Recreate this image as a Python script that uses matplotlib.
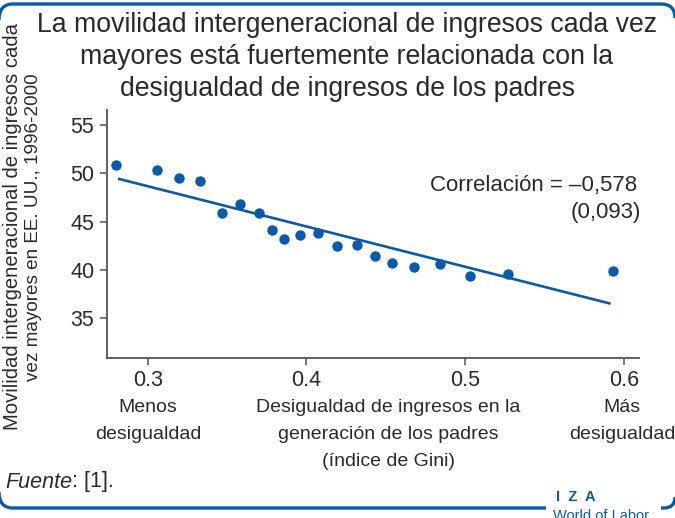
import matplotlib
matplotlib.use('Agg')
import matplotlib.pyplot as plt
from matplotlib.patches import PathPatch
from matplotlib.path import Path

# ---- data ----
gini = [0.280, 0.306, 0.320, 0.333, 0.347, 0.358, 0.370, 0.378, 0.386, 0.396,
        0.407, 0.419, 0.432, 0.443, 0.454, 0.468, 0.484, 0.503, 0.527, 0.593]
mobility = [50.83, 50.34, 49.55, 49.20, 45.93, 46.82, 45.86, 44.17, 43.17, 43.58,
            43.86, 42.47, 42.58, 41.44, 40.71, 40.30, 40.65, 39.41, 39.61, 39.92]
fit_x = [0.2812, 0.5917]
fit_y = [49.45, 36.52]

xticks = [0.3, 0.4, 0.5, 0.6]
xtick_labels = ['0.3', '0.4', '0.5', '0.6']
yticks = [35, 40, 45, 50, 55]
ytick_labels = ['35', '40', '45', '50', '55']

title_lines = ['La movilidad intergeneracional de ingresos cada vez',
               'mayores está fuertemente relacionada con la',
               'desigualdad de ingresos de los padres']
ylabel_lines = ['Movilidad intergeneracional de ingresos cada',
                'vez mayores en EE. UU., 1996-2000']
corr_text = 'Correlación = \u20130,578'
se_text = '(0,093)'
left_label = ['Menos', 'desigualdad']
mid_label = ['Desigualdad de ingresos en la', 'generación de los padres',
             '(índice de Gini)']
right_label = ['Más', 'desigualdad']

BLUE = '#0a5aa8'
TXT = '#2a2a2a'
AX = '#555555'

plt.rcParams['font.family'] = ['Liberation Sans', 'DejaVu Sans']

W, H = 675, 518
fig = plt.figure(figsize=(W / 100, H / 100), dpi=100)


def fx(px):
    return px / W


def fy(py):
    return 1 - py / H


ax = fig.add_axes([fx(106.8), fy(358), fx(639) - fx(106.8), fy(110) - fy(358)])
ax.plot(fit_x, fit_y, color=BLUE, lw=1.9, solid_capstyle='butt', zorder=2)
ax.plot(gini, mobility, 'o', color=BLUE, ms=7.5, mec='none', zorder=3)

ax.set_xlim(0.2742, 0.6096)
ax.set_ylim(30.9, 56.55)
ax.set_xticks(xticks)
ax.set_xticklabels(xtick_labels)
ax.set_yticks(yticks)
ax.set_yticklabels(ytick_labels)
for s in ['top', 'right']:
    ax.spines[s].set_visible(False)
for s in ['left', 'bottom']:
    ax.spines[s].set_color(AX)
    ax.spines[s].set_linewidth(1.3)
ax.tick_params(direction='out', length=5, width=1.1, color=AX,
               labelsize=15.5, labelcolor=TXT, pad=4)

# correlation annotation
fig.text(fx(637), fy(186), corr_text, ha='right', va='center', fontsize=16, color=TXT)
fig.text(fx(641), fy(212), se_text, ha='right', va='center', fontsize=16, color=TXT)

# title
for i, line in enumerate(title_lines):
    fig.text(fx(347), fy(25 + 32 * i), line, ha='center', va='center',
             fontsize=19.2, color=TXT)

# y label (two rotated lines)
fig.text(fx(13), fy(226), ylabel_lines[0], ha='center', va='center',
         rotation=90, fontsize=14.6, color=TXT)
fig.text(fx(34), fy(227), ylabel_lines[1], ha='center', va='center',
         rotation=90, fontsize=13.6, color=TXT)

# x-axis descriptive labels


def stack(xc, lines, y0=408, dy=26.5):
    for i, line in enumerate(lines):
        fig.text(fx(xc), fy(y0 + dy * i), line, ha='center', va='center',
                 fontsize=14, color=TXT)


stack(148, left_label)
stack(388, mid_label)
stack(622, right_label)

# source
t1 = fig.text(fx(5), fy(482), 'Fuente', ha='left', va='center', fontsize=15.5,
              color=TXT, style='italic')
fig.canvas.draw()
bb = t1.get_window_extent()
fig.text(bb.x1 / W, fy(482), ': [1].', ha='left', va='center', fontsize=15.5, color=TXT)


# frame (top and bottom rules with rounded corners)
def P(x, y):
    return (fx(x), fy(y))


top = Path([P(-1, 20), P(-1, 4), P(13, 4), P(661, 4), P(675, 4), P(675, 18)],
           [Path.MOVETO, Path.CURVE3, Path.CURVE3, Path.LINETO, Path.CURVE3, Path.CURVE3])
bot_l = Path([P(-1, 492), P(-1, 508), P(13, 508), P(546, 508)],
             [Path.MOVETO, Path.CURVE3, Path.CURVE3, Path.LINETO])
bot_r = Path([P(661, 508), P(664, 508), P(675, 508), P(675, 497)],
             [Path.MOVETO, Path.LINETO, Path.CURVE3, Path.CURVE3])
for pth in (top, bot_l, bot_r):
    fig.patches.append(PathPatch(pth, transform=fig.transFigure, fill=False,
                                 edgecolor=BLUE, lw=2.4, clip_on=False))

fig.text(fx(556), fy(497), 'I  Z  A', ha='left', va='center', fontsize=10.5,
         fontweight='bold', color=BLUE)
fig.text(fx(553), fy(516), 'World of Labor', ha='left', va='center', fontsize=10.5,
         color=BLUE)

fig.savefig('out.png', dpi=100)
